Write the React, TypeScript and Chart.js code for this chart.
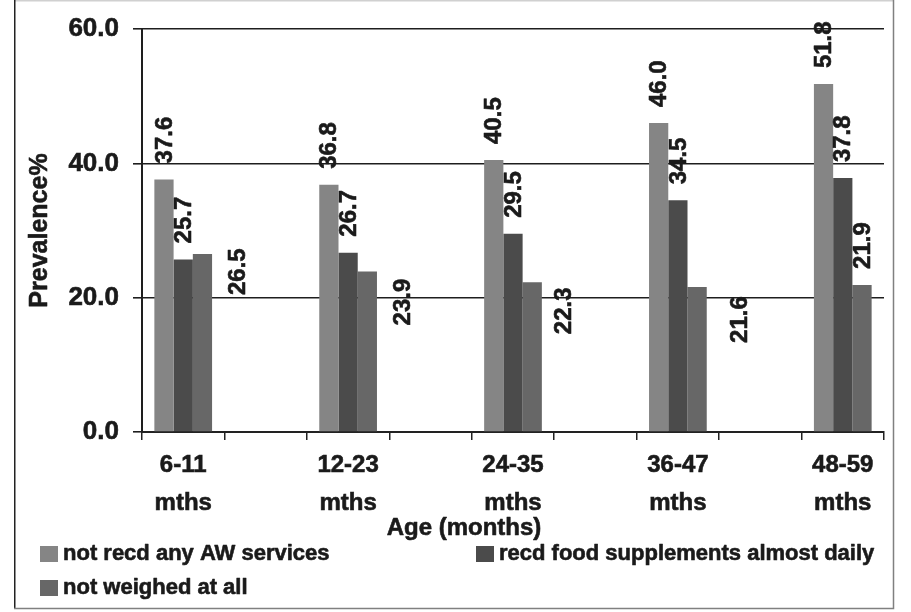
import React, { useEffect, useRef } from 'react';
import { Chart, registerables } from 'chart.js';

Chart.register(...registerables);

// ---- data ----
const ageGroups = ['6-11', '12-23', '24-35', '36-47', '48-59'];
const ageUnit = 'mths';
const notRecdAnyAW = [37.6, 36.8, 40.5, 46.0, 51.8];
const recdFoodDaily = [25.7, 26.7, 29.5, 34.5, 37.8];
const notWeighedAtAll = [26.5, 23.9, 22.3, 21.6, 21.9];
const seriesNames = [
  'not recd any AW services',
  'recd food supplements almost daily',
  'not weighed at all',
];
const yTickValues = [0, 20, 40, 60];
const yTitle = 'Prevalence%';
const xTitle = 'Age (months)';

// ---- style ----
const FONT = "'Liberation Sans', Arial, Helvetica, sans-serif";
const colors = ['#858585', '#4b4b4b', '#676767'];
const INK = '#1a1a1a';
const STROKE = 0.6;
// label displacement (px) of the third series' value labels, as in the original
const thirdLabelShift = [[35, 57], [35, 70], [31, 68], [42, 72], [0, 0]];

// 5 groups separated by empty slots
const slotLabels: (string | string[])[] = [];
ageGroups.forEach((g, i) => {
  slotLabels.push([g, ageUnit]);
  if (i < ageGroups.length - 1) slotLabels.push('');
});
const spread = (arr: number[]) => {
  const out: (number | null)[] = [];
  arr.forEach((v, i) => {
    out.push(v);
    if (i < arr.length - 1) out.push(null);
  });
  return out;
};

const heavyText = (ctx: CanvasRenderingContext2D, s: string, x: number, y: number) => {
  ctx.lineWidth = STROKE;
  ctx.strokeStyle = INK;
  ctx.lineJoin = 'round';
  ctx.strokeText(s, x, y);
  ctx.fillText(s, x, y);
};

const decorPlugin = {
  id: 'decor',
  beforeDraw(chart: any) {
    const ctx = chart.ctx;
    ctx.save();
    ctx.fillStyle = '#ffffff';
    ctx.fillRect(0, 0, chart.width, chart.height);
    ctx.restore();
  },
  afterDraw(chart: any) {
    const ctx = chart.ctx;
    const ca = chart.chartArea;
    ctx.save();
    // frame
    ctx.lineWidth = 1.5;
    ctx.strokeStyle = '#d0d0d0';
    ctx.beginPath();
    ctx.moveTo(14, 0.75);
    ctx.lineTo(894, 0.75);
    ctx.stroke();
    ctx.strokeStyle = '#222222';
    ctx.beginPath();
    ctx.moveTo(14.75, 0);
    ctx.lineTo(14.75, 609);
    ctx.stroke();
    ctx.strokeStyle = '#808080';
    ctx.beginPath();
    ctx.moveTo(893.5, 0);
    ctx.lineTo(893.5, 608.5);
    ctx.lineTo(14, 608.5);
    ctx.stroke();

    // axis titles
    ctx.fillStyle = INK;
    ctx.font = `bold 25px ${FONT}`;
    ctx.textAlign = 'center';
    ctx.textBaseline = 'middle';
    ctx.save();
    ctx.translate(40, (ca.top + ca.bottom) / 2);
    ctx.rotate(-Math.PI / 2);
    heavyText(ctx, yTitle, 0, 0);
    ctx.restore();
    ctx.font = `bold 24px ${FONT}`;
    heavyText(ctx, xTitle, 464, 528);

    // legend
    const items = [
      { box: [40, 546], text: [63, 554] },
      { box: [476, 546], text: [499, 554] },
      { box: [40, 580], text: [63, 588] },
    ];
    ctx.font = `bold 22px ${FONT}`;
    ctx.textAlign = 'left';
    chart.data.datasets.forEach((ds: any, i: number) => {
      const it = items[i];
      ctx.fillStyle = ds.backgroundColor;
      ctx.fillRect(it.box[0], it.box[1], 18, 16);
      ctx.fillStyle = INK;
      heavyText(ctx, ds.label, it.text[0], it.text[1]);
    });

    // value labels
    ctx.font = `bold 24px ${FONT}`;
    ctx.fillStyle = INK;
    ctx.textAlign = 'left';
    ctx.textBaseline = 'middle';
    chart.data.datasets.forEach((ds: any, i: number) => {
      const meta = chart.getDatasetMeta(i);
      let g = 0;
      ds.data.forEach((v: number | null, j: number) => {
        if (v == null) return;
        const el = meta.data[j];
        let dx = 1;
        let dy = 0;
        if (i === 2) {
          dx += thirdLabelShift[g][0];
          dy += thirdLabelShift[g][1];
        }
        ctx.save();
        ctx.translate(el.x + dx, el.y - 16 + dy);
        ctx.rotate(-Math.PI / 2);
        heavyText(ctx, v.toFixed(1), 0, 0);
        ctx.restore();
        g++;
      });
    });
    ctx.restore();
  },
};

export default function App() {
  const ref = useRef<HTMLCanvasElement | null>(null);
  useEffect(() => {
    if (!ref.current) return;
    const chart = new Chart(ref.current, {
      type: 'bar',
      data: {
        labels: slotLabels,
        datasets: [
          { label: seriesNames[0], data: spread(notRecdAnyAW), backgroundColor: colors[0] },
          { label: seriesNames[1], data: spread(recdFoodDaily), backgroundColor: colors[1] },
          { label: seriesNames[2], data: spread(notWeighedAtAll), backgroundColor: colors[2] },
        ],
      },
      options: {
        responsive: false,
        animation: false,
        layout: { padding: { left: 0, top: 29, right: 27, bottom: 0 } },
        datasets: { bar: { categoryPercentage: 0.7, barPercentage: 1.0, borderWidth: 0 } },
        plugins: { legend: { display: false }, tooltip: { enabled: false }, title: { display: false } },
        scales: {
          x: {
            offset: true,
            grid: {
              display: true,
              offset: true,
              drawOnChartArea: false,
              drawTicks: true,
              tickLength: 8,
              color: '#222222',
              lineWidth: 1.5,
            },
            border: { display: true, color: '#222222', width: 2 },
            ticks: {
              color: INK,
              font: { family: FONT, size: 24, weight: 'bold', lineHeight: 38 / 24 },
              padding: 6,
              maxRotation: 0,
              autoSkip: false,
              textStrokeColor: INK,
              textStrokeWidth: STROKE,
            },
            afterFit: (s: any) => {
              s.height = 180;
              s.paddingLeft = 0;
              s.paddingRight = 0;
            },
          },
          y: {
            min: 0,
            max: 60,
            afterBuildTicks: (s: any) => {
              s.ticks = yTickValues.map((v) => ({ value: v }));
            },
            grid: { color: '#1e1e1e', lineWidth: 1.6, tickLength: 9, drawTicks: true },
            border: { display: true, color: '#1e1e1e', width: 2 },
            ticks: {
              color: INK,
              font: { family: FONT, size: 26, weight: 'bold' },
              padding: 14,
              textStrokeColor: INK,
              textStrokeWidth: STROKE,
              callback: (v: any) => Number(v).toFixed(1),
            },
            afterFit: (s: any) => {
              s.width = 142;
              s.paddingTop = 0;
              s.paddingBottom = 0;
            },
          },
        },
      },
      plugins: [decorPlugin],
    });
    return () => chart.destroy();
  }, []);
  return (
    <div style={{ position: 'fixed', left: 0, top: 0, width: 911, height: 612 }}>
      <canvas ref={ref} width={911} height={612} style={{ display: 'block' }} />
    </div>
  );
}
